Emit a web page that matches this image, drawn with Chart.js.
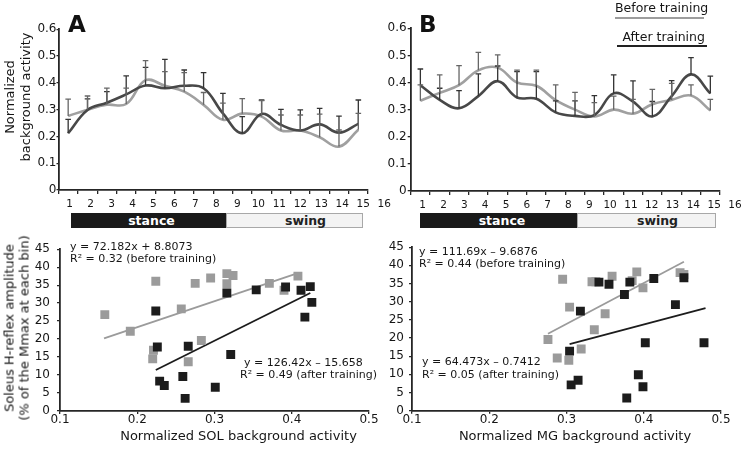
<!DOCTYPE html>
<html>
<head>
<meta charset="utf-8">
<script src="https://cdn.jsdelivr.net/npm/chart.js@4.4.1/dist/chart.umd.min.js"></script>
<style>
  body { margin: 0; background: #fff; }
  #fig { position: relative; width: 744px; height: 456px; overflow: hidden; font-family: "DejaVu Sans", sans-serif; color: #161616; }
  canvas { position: absolute; }
  .t { position: absolute; white-space: nowrap; z-index: 5; }
  .eq { font-size: 11px; line-height: 12px; }
  .panel { font-size: 23px; line-height: 23px; font-weight: bold; color: #111; }
  .leg { font-size: 12.5px; line-height: 14px; }
  .rule { position: absolute; height: 2px; z-index: 5; }
  .ytitle { position: absolute; z-index: 5; font-size: 13px; text-align: center; white-space: nowrap; transform: translate(-50%, -50%) rotate(-90deg); }
  .xtitle { position: absolute; z-index: 5; font-size: 13px; line-height: 16px; white-space: nowrap; transform: translateX(-50%); }
  .phase { position: absolute; z-index: 5; top: 212.5px; height: 15px; box-sizing: border-box; display: flex; align-items: center; justify-content: center; font-weight: bold; font-size: 12.5px; line-height: 15px; }
  .stance { background: #1a1a1a; color: #fff; }
  .swing { background: #f3f3f3; border: 1px solid #a8a8a8; color: #222; }
</style>
</head>
<body>
<div id="fig">
  <canvas id="topA" width="395" height="215" style="left:0;top:0"></canvas>
  <canvas id="topB" width="372" height="215" style="left:372px;top:0"></canvas>
  <canvas id="scatA" width="390" height="221" style="left:0;top:235px"></canvas>
  <canvas id="scatB" width="372" height="221" style="left:372px;top:235px"></canvas>

  <div class="t panel" style="left:68px;top:12.5px">A</div>
  <div class="t panel" style="left:419px;top:12.5px">B</div>

  <div class="t leg" style="left:615px;top:0.5px">Before training</div>
  <div class="rule" style="left:615px;top:16.5px;width:89px;background:#9d9d9d"></div>
  <div class="t leg" style="left:622.5px;top:29.5px">After training</div>
  <div class="rule" style="left:617px;top:45px;width:90px;background:#222"></div>

  <div class="ytitle" style="left:17.5px;top:97px;line-height:16px">Normalized<br>background activity</div>
  <div class="ytitle" style="left:16.5px;top:328px;line-height:14.5px">Soleus H-reflex amplitude<br>(% of the Mmax at each bin)</div>
  <div class="xtitle" style="left:238.5px;top:428px">Normalized SOL background activity</div>
  <div class="xtitle" style="left:575px;top:428px">Normalized MG background activity</div>

  <div class="phase stance" style="left:71px;width:155px;padding-left:6px">stance</div>
  <div class="phase swing" style="left:226px;width:137px;padding-left:22px">swing</div>
  <div class="phase stance" style="left:420px;width:157px;padding-left:7px">stance</div>
  <div class="phase swing" style="left:577px;width:139px;padding-left:22px">swing</div>

  <div class="t eq" style="left:70px;top:241px">y = 72.182x + 8.8073</div>
  <div class="t eq" style="left:70px;top:252.5px">R² = 0.32 (before training)</div>
  <div class="t eq" style="left:244px;top:357px">y = 126.42x – 15.658</div>
  <div class="t eq" style="left:240px;top:369px">R² = 0.49 (after training)</div>
  <div class="t eq" style="left:419px;top:245.5px">y = 111.69x – 9.6876</div>
  <div class="t eq" style="left:419px;top:258px">R² = 0.44 (before training)</div>
  <div class="t eq" style="left:422px;top:355.5px">y = 64.473x – 0.7412</div>
  <div class="t eq" style="left:422px;top:368.5px">R² = 0.05 (after training)</div>
</div>
<script>
// gait cycle bins
const binLabels = ['1', '2', '3', '4', '5', '6', '7', '8', '9', '10', '11', '12', '13', '14', '15', '16'];

// SOL background activity (mean and SD per bin)
const solBefore = [0.276, 0.300, 0.318, 0.321, 0.410, 0.389, 0.367, 0.318, 0.262, 0.285, 0.274, 0.222, 0.222, 0.197, 0.162, 0.225];
const solBeforeSd = [0.063, 0.051, 0.062, 0.059, 0.073, 0.053, 0.071, 0.046, 0.062, 0.056, 0.060, 0.058, 0.058, 0.086, 0.062, 0.061];
const solAfter = [0.212, 0.299, 0.326, 0.357, 0.390, 0.380, 0.389, 0.380, 0.286, 0.212, 0.284, 0.243, 0.222, 0.245, 0.214, 0.247];
const solAfterSd = [0.052, 0.041, 0.041, 0.069, 0.068, 0.108, 0.059, 0.058, 0.075, 0.062, 0.052, 0.058, 0.077, 0.060, 0.062, 0.089];

// MG background activity (mean and SD per bin)
const mgBefore = [0.333, 0.362, 0.390, 0.445, 0.455, 0.400, 0.388, 0.335, 0.300, 0.275, 0.300, 0.285, 0.320, 0.336, 0.352, 0.297];
const mgBeforeSd = [0.058, 0.066, 0.072, 0.066, 0.047, 0.046, 0.058, 0.056, 0.064, 0.051, 0.050, 0.053, 0.055, 0.061, 0.039, 0.041];
const mgAfter = [0.390, 0.336, 0.305, 0.350, 0.405, 0.345, 0.340, 0.290, 0.277, 0.280, 0.360, 0.330, 0.275, 0.350, 0.430, 0.360];
const mgAfterSd = [0.060, 0.043, 0.065, 0.082, 0.056, 0.095, 0.100, 0.042, 0.055, 0.072, 0.068, 0.076, 0.055, 0.057, 0.062, 0.064];

// H-reflex vs background activity, [activity, H-reflex %Mmax]
const solBeforePts = [[0.158, 26.8], [0.191, 22.2], [0.224, 36.1], [0.221, 16.9], [0.220, 14.5], [0.257, 28.4],
  [0.266, 13.7], [0.275, 35.5], [0.283, 19.6], [0.295, 37.0], [0.316, 38.2], [0.316, 35.4], [0.324, 37.7],
  [0.371, 35.5], [0.390, 33.6], [0.408, 37.5]];
const solAfterPts = [[0.224, 27.8], [0.226, 17.8], [0.266, 18.0], [0.229, 8.3], [0.235, 7.1], [0.259, 9.6],
  [0.262, 3.5], [0.301, 6.6], [0.316, 32.8], [0.321, 15.7], [0.354, 33.7], [0.392, 34.5], [0.412, 33.6],
  [0.424, 34.6], [0.426, 30.2], [0.417, 26.1]];
const mgBeforePts = [[0.295, 36.2], [0.276, 19.6], [0.288, 14.5], [0.303, 13.9], [0.304, 28.5], [0.319, 17.0],
  [0.333, 35.5], [0.336, 22.3], [0.338, 35.5], [0.350, 26.7], [0.359, 37.0], [0.385, 35.8], [0.391, 38.2],
  [0.399, 33.8], [0.447, 38.0], [0.452, 37.5]];
const mgAfterPts = [[0.304, 16.4], [0.306, 7.1], [0.315, 8.4], [0.318, 27.4], [0.342, 35.4], [0.355, 34.8],
  [0.375, 32.0], [0.382, 35.4], [0.413, 36.4], [0.452, 36.6], [0.441, 29.2], [0.393, 9.9], [0.399, 6.6],
  [0.378, 3.5], [0.402, 18.7], [0.478, 18.7]];

// regression line ends as drawn
const solBeforeFit = [[0.157, 20.2], [0.407, 38.3]];
const solAfterFit = [[0.224, 11.4], [0.424, 32.8]];
const mgBeforeFit = [[0.276, 21.2], [0.452, 41.0]];
const mgAfterFit = [[0.304, 18.3], [0.480, 28.2]];

const DARK = '#484848';
const LIGHT = '#a0a0a0';
const BLACK = '#1c1c1c';
const GREY = '#9b9b9b';
const AXIS = '#262626';

Chart.defaults.font.family = '"DejaVu Sans", sans-serif';
Chart.defaults.color = '#161616';

const toXY = pts => pts.map(p => ({ x: p[0], y: p[1] }));

// upward SD bars with caps
const errorBars = {
  id: 'errorBars',
  afterDatasetsDraw(chart) {
    const ctx = chart.ctx;
    const yScale = chart.scales.y;
    chart.data.datasets.forEach((ds, i) => {
      if (!ds.sd) {
        return;
      }
      const meta = chart.getDatasetMeta(i);
      ctx.save();
      ctx.strokeStyle = ds.barColor;
      ctx.lineWidth = 1.3;
      meta.data.forEach((pt, j) => {
        const top = yScale.getPixelForValue(ds.data[j] + ds.sd[j]);
        ctx.beginPath();
        ctx.moveTo(pt.x, pt.y);
        ctx.lineTo(pt.x, top);
        ctx.moveTo(pt.x - 2.8, top);
        ctx.lineTo(pt.x + 2.8, top);
        ctx.stroke();
      });
      ctx.restore();
    });
  }
};

function makeTopChart(id, before, beforeSd, after, afterSd, layout) {
  return new Chart(document.getElementById(id), {
    type: 'line',
    data: {
      labels: binLabels,
      datasets: [
        { data: after, sd: afterSd, barColor: '#333', borderColor: DARK, borderWidth: 2.6, tension: 0.4, pointRadius: 0, fill: false },
        { data: before, sd: beforeSd, barColor: '#666', borderColor: LIGHT, borderWidth: 2.6, tension: 0.4, pointRadius: 0, fill: false }
      ]
    },
    options: {
      responsive: false,
      animation: false,
      events: [],
      layout: { padding: { top: layout.top, right: layout.right, left: 0, bottom: 0 } },
      plugins: { legend: { display: false }, tooltip: { enabled: false } },
      scales: {
        x: {
          type: 'category',
          offset: true,
          grid: { offset: true, drawOnChartArea: false, tickLength: 4, color: AXIS, lineWidth: 1.3 },
          border: { color: AXIS, width: 1.8 },
          ticks: { display: false },
          afterFit: s => { s.height = 5; }
        },
        lab: {
          type: 'linear',
          position: 'bottom',
          weight: 1,
          bounds: 'data',
          min: layout.labMin,
          max: layout.labMax,
          grid: { display: false, drawTicks: false },
          border: { display: false },
          ticks: { autoSkip: false, maxRotation: 0, padding: 3, font: { size: 10.5 }, callback: (v, i) => binLabels[i] },
          afterBuildTicks: s => { s.ticks = binLabels.map((l, i) => ({ value: i + 1 })); },
          afterFit: s => { s.height = layout.labH; }
        },
        y: {
          min: 0,
          max: 0.6,
          grid: { drawOnChartArea: false, tickLength: layout.tick, color: AXIS, lineWidth: 1.3 },
          border: { color: AXIS, width: 1.8 },
          ticks: { stepSize: 0.1, padding: layout.tickPad, font: { size: 12 } },
          afterFit: s => { s.width = layout.yw; }
        }
      }
    },
    plugins: [errorBars]
  });
}

function makeScatter(id, beforePts, afterPts, beforeFit, afterFit, layout) {
  return new Chart(document.getElementById(id), {
    type: 'scatter',
    data: {
      datasets: [
        { data: toXY(afterPts), backgroundColor: BLACK, pointStyle: 'rect', pointRadius: 6.3, borderWidth: 0 },
        { data: toXY(beforePts), backgroundColor: GREY, pointStyle: 'rect', pointRadius: 6.3, borderWidth: 0 },
        { type: 'line', data: toXY(afterFit), borderColor: BLACK, borderWidth: 1.8, pointRadius: 0, fill: false },
        { type: 'line', data: toXY(beforeFit), borderColor: GREY, borderWidth: 1.8, pointRadius: 0, fill: false }
      ]
    },
    options: {
      responsive: false,
      animation: false,
      events: [],
      layout: { padding: { top: layout.top, right: layout.right, left: 0, bottom: 0 } },
      plugins: { legend: { display: false }, tooltip: { enabled: false } },
      scales: {
        x: {
          type: 'linear',
          min: 0.1,
          max: 0.5,
          grid: { drawOnChartArea: false, tickLength: 3, color: AXIS, lineWidth: 1.3 },
          border: { color: AXIS, width: 1.8 },
          ticks: { stepSize: 0.1, padding: 0, font: { size: 12, lineHeight: 1 }, callback: v => v.toFixed(1) },
          afterFit: s => { s.height = layout.xh; }
        },
        y: {
          min: 0,
          max: 45,
          grid: { drawOnChartArea: false, tickLength: 3, color: AXIS, lineWidth: 1.3 },
          border: { color: AXIS, width: 1.8 },
          ticks: { stepSize: 5, padding: layout.tickPad, font: { size: 12 } },
          afterFit: s => { s.width = layout.yw; }
        }
      }
    }
  });
}

makeTopChart('topA', solBefore, solBeforeSd, solAfter, solAfterSd,
  { top: 29.3, right: 27, yw: 58.5, labMin: 0.474, labMax: 15.225, labH: 20, tick: 2, tickPad: 0 });
makeTopChart('topB', mgBefore, mgBeforeSd, mgAfter, mgAfterSd,
  { top: 28.3, right: 24, yw: 38.7, labMin: 0.424, labMax: 15.28, labH: 19, tick: 3, tickPad: 1 });
makeScatter('scatA', solBeforePts, solAfterPts, solBeforeFit, solAfterFit,
  { top: 10.7, right: 21, yw: 60, xh: 45, tickPad: 7 });
makeScatter('scatB', mgBeforePts, mgAfterPts, mgBeforeFit, mgAfterFit,
  { top: 6, right: 23, yw: 40, xh: 45.3, tickPad: 5 });
</script>
</body>
</html>
